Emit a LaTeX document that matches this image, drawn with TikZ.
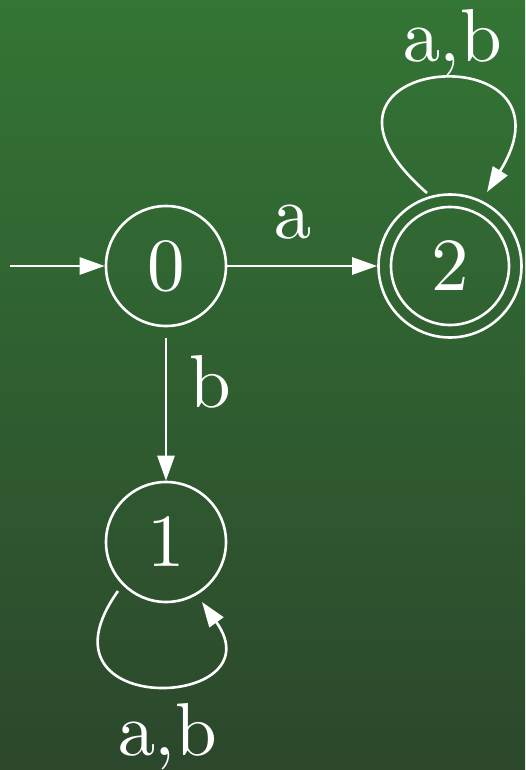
\documentclass[tikz,border=0pt]{standalone}
\usetikzlibrary{arrows.meta,calc}
\font\statefont=cmr10 at 75pt
\definecolor{bgtop}{RGB}{51,117,53}
\definecolor{bgbot}{RGB}{44,71,44}
\begin{document}
\begin{tikzpicture}[x=1pt,y=-1pt,
  state/.style={circle,draw=white,line width=2.6pt,minimum size=120pt,inner sep=0pt,text=white,font=\statefont},
  accept/.style={state,minimum size=143pt},
  edge/.style={draw=white,line width=2.6pt,-{Triangle[length=25pt,width=17pt]}},
  lbl/.style={text=white,font=\statefont,inner sep=0pt,anchor=base}]
\useasboundingbox (0,0) rectangle (525,770);
\shade[top color=bgtop,bottom color=bgbot] (0,0) rectangle (525,770);
\node[state] (n0) at (166,266) {0};
\node[state] (n1) at (166,542) {1};
\node[accept] (n2) at (450,266) {2};
\draw[white,line width=2.6pt] (n2) circle[radius=59pt];
\coordinate (init) at (10,266);
\draw[edge] (init) -- (n0);
\draw[edge] (n0) -- (n2);
\draw[edge,shorten <=11pt] (n0) -- (n1);
\draw[edge] ($(n2)+(-23,-73)$) .. controls ($(n2)+(-182,-212)$) and ($(n2)+(138,-236)$) .. ($(n2)+(37,-74)$);
\draw[edge] ($(n1)+(-48,49)$) .. controls ($(n1)+(-140,178)$) and ($(n1)+(113,168)$) .. ($(n1)+(36,60)$);
\node[lbl] (la) at (292,238) {a};
\node[lbl] (lb) at (210,407) {b};
\node[lbl] (l2) at (452,62) {a,b};
\node[lbl] (l1) at (167,755) {a,b};
\end{tikzpicture}
\end{document}
